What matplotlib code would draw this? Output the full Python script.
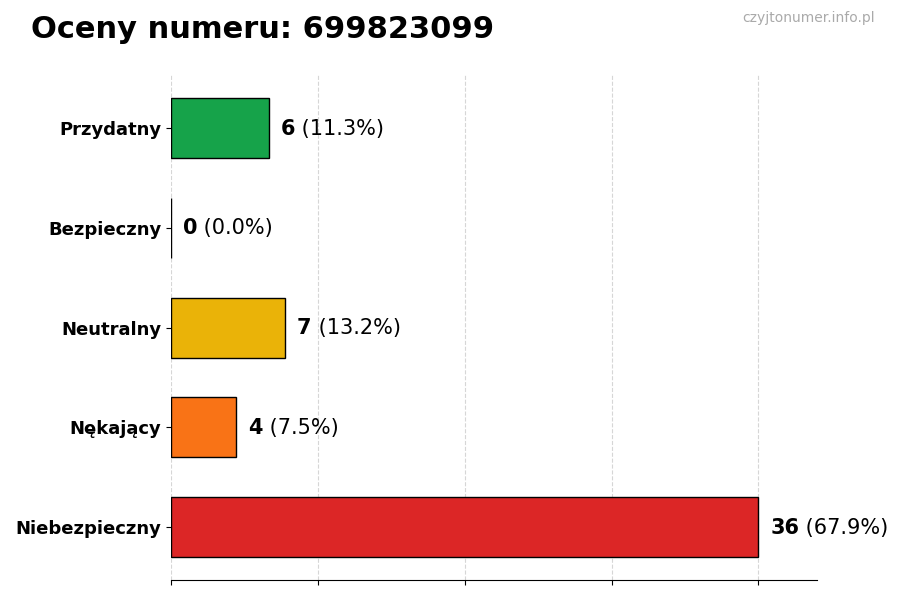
import matplotlib
matplotlib.use("Agg")
import matplotlib.pyplot as plt

categories = ["Przydatny", "Bezpieczny", "Neutralny", "Nękający", "Niebezpieczny"]
counts = [6, 0, 7, 4, 36]
percents = [11.3, 0.0, 13.2, 7.5, 67.9]
colors = ["#16a34a", "#16a34a", "#eab308", "#f97316", "#dc2626"]
ticks = [0, 9, 18, 27, 36]

fig = plt.figure(figsize=(9, 6), dpi=100)
ax = fig.add_axes([0.19, 0.033, 0.718, 0.842])

ypos = list(range(len(categories)))[::-1]
ax.barh(ypos, counts, height=0.6, color=colors, edgecolor="black", linewidth=1)
ax.set_yticks(ypos)
ax.set_yticklabels(categories, fontsize=13, fontweight="bold")
ax.set_xticks(ticks)
ax.set_xticklabels([])
ax.set_xlim(0, max(counts) * 1.1)
ax.grid(axis="x", linestyle="--", color="#cccccc", alpha=0.8, linewidth=0.8)
ax.set_axisbelow(True)
for s in ["top", "right", "left"]:
    ax.spines[s].set_visible(False)

fig.canvas.draw()
r = fig.canvas.get_renderer()
off = 8.5
for y, c, p in zip(ypos, counts, percents):
    t = ax.annotate(str(c), (c, y), xytext=(off, -0.5), textcoords="offset points",
                    va="center", ha="left", fontsize=15, fontweight="bold")
    bb = t.get_window_extent(r)
    w = bb.width * 72 / fig.dpi
    ax.annotate(f" ({p:.1f}%)", (c, y), xytext=(off + w, -0.5), textcoords="offset points",
                va="center", ha="left", fontsize=15)

fig.text(0.034, 0.95, "Oceny numeru: 699823099", fontsize=22, fontweight="bold", va="center")
fig.text(0.972, 0.97, "czyjtonumer.info.pl", fontsize=10, color="#aaaaaa", ha="right", va="center")

fig.savefig("out.png", dpi=100)
